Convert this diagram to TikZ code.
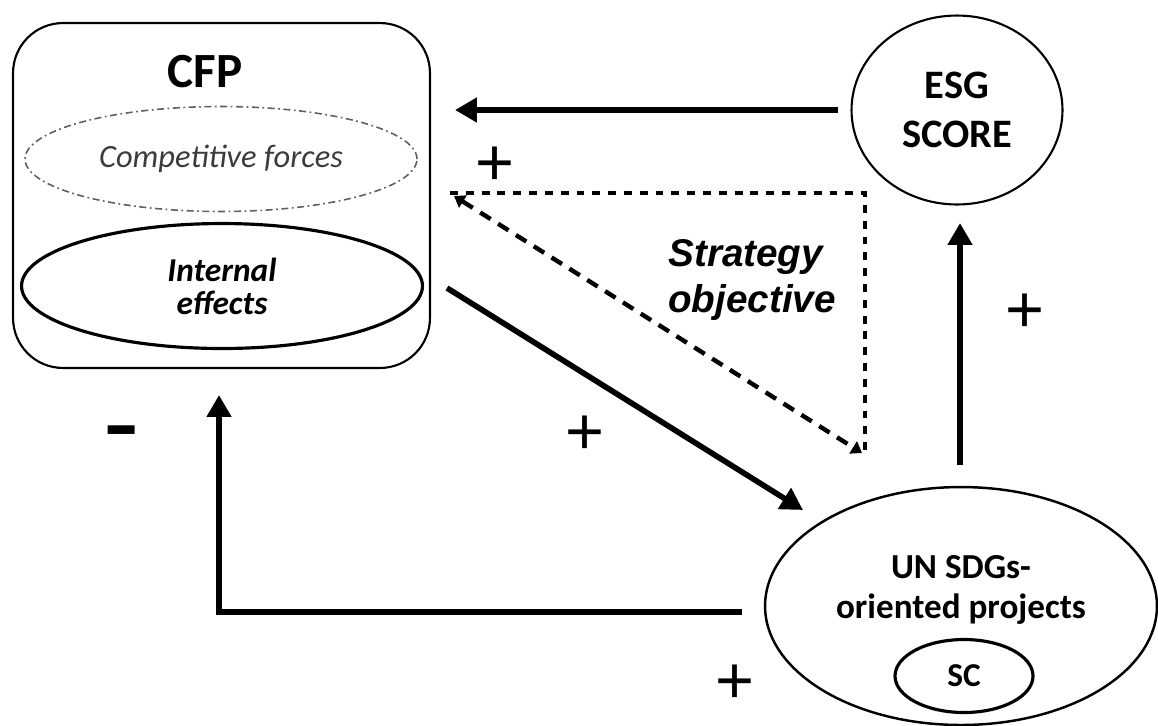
\documentclass[tikz,border=0pt]{standalone}
\usepackage{fontspec}
\setmainfont{Carlito}
\newfontfamily\arialfont{Liberation Sans}
\usetikzlibrary{shapes.geometric,arrows.meta}
\definecolor{forcegray}{RGB}{95,95,95}
\definecolor{forcetext}{RGB}{60,60,60}

\begin{document}
\begin{tikzpicture}[x=0.02cm,y=-0.02cm,
    bubble/.style={draw, ellipse, inner sep=0pt, align=center},
    mainarrow/.style={line width=3.2pt, -{Triangle[length=12.5pt,width=13.5pt]}},
    sign/.style={inner sep=0pt, font=\arialfont\fontsize{38}{38}\selectfont}]
    % Keep the margins of the picture
    \useasboundingbox (0,0) rectangle (1158,725);

    % CFP box with its two inner ellipses
    \node[draw, line width=1.2pt, rounded corners=1cm, minimum width=8.34cm, minimum height=6.9cm] (cfp) at (221.5,195.5) {};
    \node[font=\bfseries\fontsize{28}{28}\selectfont] (cfptitle) at (205,72) {CFP};
    \node[bubble, forcegray, line width=0.9pt, dash pattern=on 4pt off 2pt on 1pt off 2pt,
          minimum width=7.84cm, minimum height=2.1cm, text=forcetext,
          font=\itshape\fontsize{18.5}{18.5}\selectfont] (forces) at (221,159) {Competitive forces};
    \node[bubble, line width=1.8pt, minimum width=8.02cm, minimum height=2.5cm,
          font=\bfseries\itshape\fontsize{19}{18.7}\selectfont] (internal) at (222,286) {Internal\\effects};

    % ESG score
    \node[bubble, line width=1.2pt, minimum width=4.22cm, minimum height=3.78cm,
          font=\bfseries\fontsize{23}{28}\selectfont] (esg) at (957,110) {ESG\\SCORE};

    % UN SDGs projects with SC inside
    \node[bubble, line width=1.4pt, minimum width=7.84cm, minimum height=4.76cm] (un) at (961,606) {};
    \node[align=center, font=\bfseries\fontsize{20}{22.7}\selectfont] (untext) at (961,590) {UN SDGs-\\oriented projects};
    \node[bubble, line width=1.8pt, minimum width=2.76cm, minimum height=1.46cm,
          font=\bfseries\fontsize{19}{19}\selectfont] (sc) at (964,676) {SC};

    % Strategy objective
    \node[anchor=west, inner sep=0pt, align=left, font=\arialfont\bfseries\itshape\fontsize{22}{26.7}\selectfont] (strategy) at (668,280) {Strategy\\objective};

    % Ends of the connectors
    \coordinate (esgout) at (838,110);
    \coordinate (cfpin) at (455,110);
    \coordinate (cfpout) at (447,288);
    \coordinate (unin) at (803,510);
    \coordinate (unup) at (960,465);
    \coordinate (esgin) at (960,223);
    \coordinate (unback) at (742,612);
    \coordinate (corner) at (219,612);
    \coordinate (cfpback) at (219,395);
    \coordinate (trileft) at (450,193);
    \coordinate (triright) at (865,193);
    \coordinate (tribottom) at (865,455);

    % Arrows
    \draw[mainarrow] (esgout) -- (cfpin);
    \draw[mainarrow] (cfpout) -- (unin);
    \draw[mainarrow] (unup) -- (esgin);
    \draw[mainarrow] (unback) -- (corner) -- (cfpback);

    % Dotted triangle and dashed diagonal
    \draw[line width=2.8pt, dash pattern=on 4.5pt off 4.5pt] (trileft) -- (triright) -- (tribottom);
    \draw[line width=2.5pt, dash pattern=on 7pt off 5pt,
          {Triangle[length=6pt,width=8pt]}-{Triangle[length=6pt,width=8pt]}] ([shift={(4,3)}]trileft) -- ([shift={(-3,-2)}]tribottom);

    % Signs
    \node[sign] (plustop) at (495,166) {+};
    \node[sign] (plusmid) at (585,435) {+};
    \node[sign] (plusright) at (1025,313) {+};
    \node[sign] (plusbottom) at (735,684) {+};
    \node[inner sep=0pt, font=\arialfont\bfseries\fontsize{31}{31}\selectfont] (minus) at (122,440) {\scalebox{1}[1.6]{–}};
\end{tikzpicture}
\end{document}
